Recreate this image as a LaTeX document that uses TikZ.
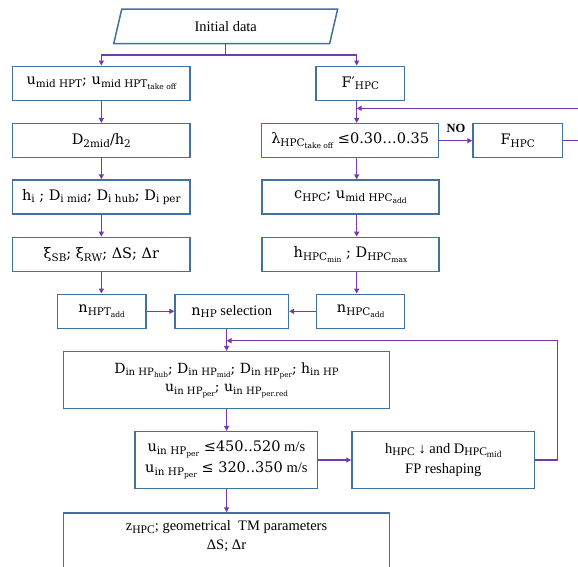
\documentclass[tikz,border=0pt]{standalone}
\usepackage{fontspec}
\setmainfont{Liberation Serif}
\newfontfamily\mf{DejaVu Serif}
\usetikzlibrary{arrows.meta}
\definecolor{boxblue}{RGB}{65,113,156}
\definecolor{arrpurple}{RGB}{120,55,170}
\newcommand\sbs[1]{\raisebox{-0.35ex}{\scalebox{0.72}{#1}}}
\newcommand\sbt[1]{\raisebox{-0.35ex}{\scalebox{0.8}{#1}}}
\begin{document}
\begin{tikzpicture}[x=1pt,y=-1pt,
  box/.style={draw=boxblue, line width=1.5pt, fill=white, inner sep=0pt, align=center, font=\fontsize{14.5}{17}\selectfont},
  lcol/.style={box, minimum width=177.3pt, minimum height=34pt},
  rcol/.style={box, minimum width=177pt, minimum height=34pt},
  sbox/.style={box, minimum width=88.5pt, minimum height=34pt},
  conn/.style={draw=arrpurple, line width=1.3pt},
  arr/.style={conn, -{Triangle[length=5pt,width=5pt]}}]
\useasboundingbox (0,0) rectangle (578,566);
\clip (0,0) rectangle (578,566);
\fill[white] (0,0) rectangle (578,566);

% coordinates for column lines
\coordinate (rc) at (356.7,0);
\coordinate (mc) at (226.6,0);
\coordinate (eR) at (582,0);
\coordinate (rr) at (557.3,0);
\coordinate (split) at (0,55);
\coordinate (fbk) at (356.7,108.3);
\coordinate (fb2) at (226.6,340.7);

% start
\node[inner sep=0pt, minimum width=215.5pt, minimum height=34pt, font=\fontsize{14.5}{17}\selectfont] (init) at (225.7,26.3) {Initial data};
\draw[boxblue, line width=1.5pt] ([xshift=-4pt]init.south west) -- ([xshift=4pt]init.north west) -- ([xshift=4pt]init.north east) -- ([xshift=-4pt]init.south east) -- cycle;

% left column
\node[lcol] (b1) at (101.35,83.3) {\mf u\sbs{mid HPT}; u\sbs{mid HPT\sbs{take off}}};
\node[lcol] (b2) at (101.35,140.7) {\mf D\sbs{2mid}/h\sbs{2}};
\node[lcol] (b3) at (101.35,197) {\mf h\sbs{i} ; D\sbs{i mid}; D\sbs{i hub}; D\sbs{i per}};
\node[lcol] (b4) at (101.35,254.4) {\mf ξ\sbs{SB}; ξ\sbs{RW}; ΔS; Δr};

% right column
\node[sbox] (fp) at (360.3,83.3) {\mf F′\sbs{HPC}};
\node[rcol] (lam) at (350.2,140.7) {\mf λ\sbs{HPC\sbs{take off}} ≤0.30…0.35};
\node[box, minimum width=89.3pt, minimum height=34pt] (fhpc) at (517.7,140.7) {\mf F\sbs{HPC}};
\node[font=\bfseries\fontsize{12.5}{14}\selectfont, inner sep=0pt] (nolab) at (456,128) {NO};
\node[rcol] (chpc) at (350.5,197) {\mf c\sbs{HPC}; u\sbs{mid HPC\sbs{add}}};
\node[rcol] (hhpc) at (350.5,254.4) {\mf h\sbs{HPC\sbs{min}} ; D\sbs{HPC\sbs{max}}};

% row 5
\node[sbox] (nhpt) at (101.7,311.3) {\mf n\sbs{HPT\sbs{add}}};
\node[box, minimum width=113.3pt, minimum height=34pt] (nhp) at (231.7,311.3) {{\mf n\sbs{HP}} selection};
\node[sbox, minimum width=88pt] (nhpc) at (360.7,311.3) {\mf n\sbs{HPC\sbs{add}}};

% lower part
\node[box, minimum width=326.4pt, minimum height=56.6pt, font=\fontsize{14}{18.5}\selectfont] (din) at (226.5,380) {\mf D\sbs{in HP\sbs{hub}}; D\sbs{in HP\sbs{mid}}; D\sbs{in HP\sbs{per}}; h\sbs{in HP}\\ \mf u\sbs{in HP\sbs{per}}; u\sbs{in HP\sbs{per.red}}};
\node[box, minimum width=182.7pt, minimum height=56.6pt, font=\fontsize{14.5}{21}\selectfont] (uin) at (226.35,460) {{\mf u\sbs{in HP\sbs{per}} ≤450..520} m/s\\ {\mf u\sbs{in HP\sbs{per}} ≤ 320..350} m/s};
\node[box, minimum width=182.5pt, minimum height=56.6pt, font=\fontsize{14.5}{20}\selectfont] (hfp) at (443.25,460) {h\sbt{HPC} ↓ and D\sbt{HPC\sbt{mid}}\\ FP reshaping};
\node[box, minimum width=326.4pt, minimum height=60pt, anchor=north] (zhpc) at (226.5,512.3) {};
\node[inner sep=0pt, align=center, font=\fontsize{14.5}{18.5}\selectfont] (ztext) at (226.5,536) {z\sbt{HPC}; geometrical~ TM parameters\\ ΔS; Δr};

% connectors
\draw[conn] (init.south) -- (init.south |- split);
\draw[arr] (init.south |- split) -| (b1.north);
\draw[arr] (init.south |- split) -| (fp.north -| rc);
\draw[arr] (b1.south) -- (b2.north);
\draw[arr] (b2.south) -- (b3.north);
\draw[arr] (b3.south) -- (b4.north);
\draw[arr] (b4.south) -- (nhpt.north -| b4.south);
\draw[arr] (fp.south -| rc) -- (lam.north -| rc);
\draw[arr] (lam.east) -- (fhpc.west);
\draw[arr] (fhpc.east) -- (fhpc.east -| eR) |- (fbk);
\draw[arr] (lam.south -| rc) -- (chpc.north -| rc);
\draw[arr] (chpc.south -| rc) -- (hhpc.north -| rc);
\draw[arr] (hhpc.south -| rc) -- (nhpc.north -| rc);
\draw[arr] (nhpt.east) -- (nhp.west);
\draw[arr] (nhpc.west) -- (nhp.east);
\draw[arr] (nhp.south -| mc) -- (din.north -| mc);
\draw[arr] (din.south -| mc) -- (uin.north -| mc);
\draw[arr] (uin.east) -- (hfp.west);
\draw[arr] (hfp.east) -- (hfp.east -| rr) |- (fb2);
\draw[arr] (uin.south -| mc) -- (zhpc.north -| mc);
\end{tikzpicture}
\end{document}
